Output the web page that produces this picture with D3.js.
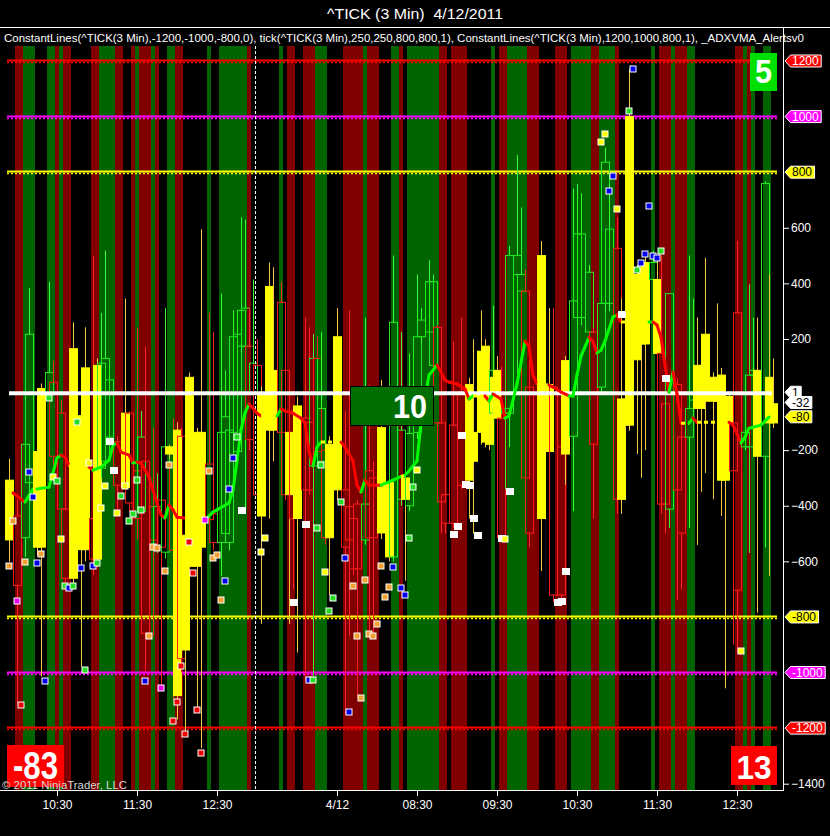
<!DOCTYPE html>
<html><head><meta charset="utf-8">
<script src="https://cdn.jsdelivr.net/npm/d3@7"></script>
<style>html,body{margin:0;padding:0;background:#000;}svg{display:block;}text{font-family:"Liberation Sans",Arial,sans-serif;}</style>
</head><body><svg id="c" width="830" height="836"></svg>
<script>
// ---------------- data ----------------
const titleText = "^TICK (3 Min)\u00a0 4/12/2011";
const legendText = "ConstantLines(^TICK(3 Min),-1200,-1000,-800,0), tick(^TICK(3 Min),250,250,800,800,1), ConstantLines(^TICK(3 Min),1200,1000,800,1), _ADXVMA_Alertsv0";
const xTickBars = [13,33,53,83,103,123,143,163,183];
const xTickLabels = ["10:30","11:30","12:30","4/12","08:30","09:30","10:30","11:30","12:30"];
const yTickValues = [600,400,200,-200,-400,-600,-1400];
const sessionBreakBar = 63;

// background shading per bar, as runs [colour code, bar count]
const bandRuns = [["K",3],["R",2],["G",3],["K",3],["G",2],["R",1],["G",1],["R",2],["K",5],["R",2],["G",4],["R",2],["K",2],["R",1],["G",1],["R",3],["G",1],["R",1],["K",2],["G",2],["R",2],["K",6],["G",1],["K",2],["G",7],["R",1],["K",7],["G",1],["K",1],["R",2],["K",2],["R",3],["G",3],["K",4],["R",5],["G",1],["R",3],["K",3],["G",2],["R",1],["K",1],["G",8],["R",2],["K",1],["R",4],["K",6],["G",1],["K",1],["R",2],["G",5],["R",3],["K",4],["R",3],["K",1],["G",5],["R",2],["G",4],["R",1],["K",8],["G",1],["K",1],["R",3],["G",1],["R",3],["G",2],["K",10],["R",2],["G",1],["R",1],["G",1],["K",2],["G",2],["K",3]];

// constant lines
const constLevels = [1200,1000,800,-800,-1000,-1200];
const constColors = ["#ff0000","#ff00ff","#ffff00","#ffff00","#ff00ff","#ff0000"];
const zeroLevel = 1;

// candles
const candleBar = [1,3,5,6,8,9,11,12,14,15, 17,19,20,22,23,24,25,26,28,30, 31,33,34,35,37,38,39,40,41,42, 43,44,45,46,48,49,51,52,54,55, 56,57,58,59,60,61,62,63,64,66, 67,69,70,71,72,73,75,76,77,78, 79,80,81,83,85,86,87,88,90,91, 92,94,96,97,99,100,101,103,104,106, 107,108,109,110,112,114,116,117,119,120, 121,122,123,124,125,126,128,129,130,131, 134,136,137,139,140,142,143,144,146,147, 149,150,151,153,154,155,156,158,159,160, 162,163,164,165,166,168,169,171,172,173, 174,175,177,178,179,180,181,182,183,185, 186,187,188,190,191,192];
const candleKind = ("YRGGYYGRRR"+"YYYRYGGGRY"+"RRGRRGRGYR"+"YRYYYYRRGG"+"GGGGGRGRYY"+"YRRYRYRRGR"+"GRYYRRRRGR"+"RYYGGYGGGG"+"GRRRRRYYYY"+"YGYRGGGGRR"+"YYRRYGGGGR"+"GGGRYYYYYY"+"GYRRGRRGGY"+"YYYYYYYRRG"+"GGYGYY").split("");
const candleOpen = [-308,-437,-515,-317,-205,22,1,44,-67,-412, 165,-76,96,-446,105,-265,-240,-153,-170,-67, -67,-274,-420,-240,-403,-549,-380,-567,-188,-250, -128,-150,-506,62,-136,-136,-250,-429,-532,-500, -532,-136,-205,174,174,174,1,105,1,389, 87,332,87,-136,-60,-41,-85,-100,-257,130, -240,-200,-179,208,-343,-403,-446,-394,-523,-274, -300,-119,-317,-584,-377,-300,-400,-136,208,225, 105,242,-102,-360,-110,1,36,-136,156,174, 62,-67,87,-85,-67,-67,432,372,372,27, 500,36,27,-188,122,-150,277,277,225,225, 27,328,328,526,-16,-16,1000,432,458,475, 414,414,148,-33,-412,36,-153,-153,-50,105, 105,217,62,62,70,-7,-7,-102,294,-188, -188,70,87,-222,62,-33];
const candleHigh = [-231,-377,-67,383,-33,40,406,120,-20,-400, 260,-60,242,500,130,294,518,70,-150,346, -60,242,-59,173,-119,-283,-200,311,-180,-85, -100,-120,-490,79,-120,595,294,225,363,87, 182,303,234,638,630,311,414,199,30,475, 458,406,150,-120,-40,-7,277,242,217,208, 225,-180,-150,311,-60,303,-430,-380,277,36, -240,53,-240,500,225,-280,148,432,311,483, 432,250,-90,-274,191,277,60,199,303,199, 148,320,139,100,96,535,862,673,449,53, 552,311,311,-145,139,741,758,724,466,240, 466,888,758,638,346,0,1172,466,480,500, 518,500,500,0,363,60,-130,500,346,277, 120,492,80,328,96,10,10,36,552,60, 397,277,277,767,432,130];
const candleLow = [-601,-1117,-584,-360,-580,-1014,-20,-300,-635,-700, -700,-980,-600,-650,-620,-300,-260,-170,-420,-360, -420,-520,-440,-997,-870,-570,-1057,-590,-230,-1100, -1169,-1000,-1220,-640,-1130,-1272,-480,-560,-652,-520, -560,-160,-230,150,-420,-200,-20,-400,-825,-446, -240,-160,-380,-825,-700,-928,-1031,-360,-1023,-230, -260,-540,-721,-380,-1152,-869,-650,-1091,-540,-863, -859,-520,-600,-600,-400,-670,-420,-160,190,200, 80,-120,-500,-500,-480,-340,-446,-500,-180,-190, -200,-90,-100,-530,-340,-190,36,350,-320,-550, -635,-280,-747,-740,-325,-420,250,250,200,-446, 0,300,300,-429,-429,-130,-130,-214,-300,-200, 380,-100,-429,-500,-480,-739,-700,-480,-60,-541, -350,-282,-377,-40,-437,-1057,-120,-900,-928,-200, -570,50,-785,-550,-652,-120];
const candleClose = [-523,-687,-179,217,-549,-549,79,-222,-412,-661, -661,-558,-558,-592,-592,113,130,53,-326,-334, -390,-446,-153,-859,-523,-403,-549,-188,-214,-560, -1083,-950,-919,-618,-618,-549,-450,-532,-136,-80, -128,208,217,303,311,-162,113,-360,-437,-128, -128,-136,-360,-360,-446,-446,-343,-343,130,-205, -50,-515,-515,-343,-549,-523,-627,-627,-394,-515, -515,-498,-584,260,-128,-377,-140,208,268,406, 406,-102,-386,-463,-463,-326,-308,-240,-136,-171, -179,87,-85,-515,-50,500,500,432,-300,-498, -446,-205,-721,-721,-214,337,578,578,440,-179, 328,836,595,-377,-377,-110,-110,125,182,182, 475,148,-394,-394,363,-343,-498,-50,-20,-50, -50,-24,-24,-24,-308,-308,-102,-274,-704,-136, 70,87,-222,759,-102,-102];

// ADXVMA line: bar, value, colour of segment arriving at the point
const maBar = [2,5,7,8,11,12,13,14,15,16, 17,18,21,22,24,26,27,28,29,31, 32,33,34,36,37,39,40,41,42,43, 45,49,50,52,53,56,57,58,59,60, 61,62,63,64,68,69,70,72,74,75, 76,77,78,79,84,85,87,88,89,90, 91,94,97,99,100,101,103,104,106,108, 109,110,111,113,115,116,117,120,121,122, 124,125,126,128,130,131,132,133,136,137, 139,141,142,143,144,146,147,148,149,150, 152,153,154,161,162,163,164,165,166,167, 168,169,171,172,173,181,182,184,185,186, 189,191];
const maVal = [-354,-387,-340,-340,-333,-282,-228,-218,-225,-254, -261,-261,-261,-272,-261,-236,-182,-174,-207,-218, -246,-243,-246,-297,-344,-433,-444,-397,-415,-441, -444,-444,-451,-423,-415,-390,-344,-236,-128,-67, -34,-49,-67,-77,-77,-52,-59,-67,-85,-103, -203,-257,-189,-171,-171,-189,-239,-326,-351,-308, -326,-326,-308,-295,-290,-275,-239,-103,70,106, 80,52,45,38,20,-16,-5,-5,-23,2, -16,-85,-77,38,192,174,70,38,34,27, 9,-5,-5,70,138,206,190,149,160,192, 279,286,261,261,261,250,206,106,9,81, 2,-103,-103,-85,-100,-100,-110,-174,-153,-121, -110,-81];
const maCol = ("SRGYGGGGRR"+"YYYRGGGGRR"+"RGRRRRRGRR"+"RYYGGGGGGG"+"GRRRYGRRRR"+"RRGGYRRRRG"+"RRGGYGGGGG"+"RRRRRRGYRG"+"RRGGGRRRYR"+"RRGGGGRRGG"+"GGRYGRRRRG"+"RRYGRYRRGG"+"GG").split("");

// alert squares
const markerBar = [1,2,3,4,5,6,7,8,9,10, 11,12,13,14,15,16,17,18,19,20, 21,22,23,24,25,26,27,28,29,30, 31,32,33,34,35,36,37,38,39,40, 41,42,43,44,45,46,47,48,49,50, 51,52,53,54,55,56,57,58,59,64, 65,72,75,76,77,78,79,80,81,82, 84,85,86,87,88,89,90,91,92,93, 94,95,96,97,99,100,101,102,103,112, 113,114,115,116,117,118,124,125,126,138, 139,140,149,150,151,152,153,154,156,157, 158,159,160,161,162,163,164,165,184];
const markerVal = [-618,-455,-742,-1117,-601,-279,-369,-606,-575,-1031, -12,-295,-312,-520,-690,-696,-690,-97,-623,-990, -248,-618,-606,-408,-329,-167,-270,-425,-365,-329, -455,-429,-308,-415,-1031,-868,-549,-553,-1057,-635, -252,-1174,-1105,-976,-1220,-529,-641,-1134,-1289,-451, -274,-589,-578,-739,-672,-338,-227,-153,-417,-567, -515,-747,-467,-1028,-1028,-480,-253,-639,-778,-733, -387,-587,-1143,-690,-869,-1091,-666,-863,-868,-825, -615,-727,-694,-622,-697,-720,-515,-334,-270,-503, -472,-147,-320,-327,-443,-506,-515,-518,-348,-747, -744,-635,908,936,731,785,666,289,1019,1173, 447,475,507,678,497,490,518,59,-924];
const markerKind = ("OOMROBBBOB"+"GYGYGBGGBG"+"YBGYYWWYGY"+"GGGGBOOOMO"+"ORRRRRRRRM"+"OOOOBBBGWY"+"YWWBGGGYGG"+"GBBOOOOOOO"+"OOOBBBGGYW"+"WWWWWWWYWW"+"WWYYBBYWGB"+"GBBBBBGWY").split("");

// value boxes and price flags
const boxTexts = ["5","10","-83","13"];
const flagValues = [1200,1000,800,-800,-1000,-1200,1,-32,-80];
const flagLabels = ["1200","1000","800","-800","-1000","-1200","1","-32","-80"];
const flagFills = ["#ff0000","#ff00ff","#ffff00","#ffff00","#ff00ff","#ff0000","#ffffff","#ffffff","#ffff00"];
const flagInk = ["#fff","#fff","#000","#000","#fff","#fff","#000","#000","#000"];

// ---------------- drawing ----------------
const svg = d3.select("#c");
const plotTop = 46, plotBottom = 790, axisX = 783;
const x = d3.scaleLinear().domain([0,193]).range([5,777]);
const y = d3.scaleLinear().domain([-1400,1200]).range([783.7,61]);
const bw = x(1)-x(0);

svg.append("rect").attr("width",830).attr("height",836).attr("fill","#000");

// bands
let pos = 0; const bands = [];
bandRuns.forEach(([c,n]) => { bands.push({c, s:pos, e:pos+n}); pos += n; });
const bandFill = {G:"#006400", R:"#800000"};
svg.append("g").selectAll("rect").data(bands.filter(b => b.c !== "K")).join("rect")
  .attr("x", d => x(d.s) - bw/2).attr("width", d => Math.min(x(d.e) - bw/2, axisX) - (x(d.s) - bw/2))
  .attr("y", plotTop).attr("height", plotBottom - plotTop)
  .attr("fill", d => bandFill[d.c]);

// constant lines (saw-tooth look)
const cl = svg.append("g");
constLevels.forEach((v,i) => {
  const yy = Math.round(y(v));
  cl.append("line").attr("x1",7).attr("x2",777).attr("y1",yy-0.5).attr("y2",yy-0.5)
    .attr("stroke",constColors[i]).attr("stroke-width",2);
  cl.append("line").attr("x1",7).attr("x2",777).attr("y1",yy+1.5).attr("y2",yy+1.5)
    .attr("stroke",constColors[i]).attr("stroke-width",1.5).attr("stroke-dasharray","2,2");
});

// candles
const candles = candleBar.map((b,i) => ({b, k:candleKind[i], o:candleOpen[i], h:candleHigh[i], l:candleLow[i], c:candleClose[i]}));
const cg = svg.append("g");
const wickCol = {G:"#33ff33", R:"#ff2020", Y:"#f5c842"};
const bodyCol = {G:"#22ee22", R:"#ff1a1a", Y:"#ffff00"};
candles.forEach(d => {
  const cx = Math.round(x(d.b)) + 0.5;
  const top = Math.max(d.o,d.c), bot = Math.min(d.o,d.c);
  const yt = y(top), yb = y(bot);
  cg.append("line").attr("x1",cx).attr("x2",cx).attr("y1",y(d.h)).attr("y2",yt).attr("stroke",wickCol[d.k]);
  cg.append("line").attr("x1",cx).attr("x2",cx).attr("y1",yb).attr("y2",y(d.l)).attr("stroke",wickCol[d.k]);
  cg.append("rect").attr("x",cx-4).attr("width",8).attr("y",yt).attr("height",Math.max(1,yb-yt))
    .attr("fill", d.k === "Y" ? "#ffff00" : "none").attr("stroke", bodyCol[d.k]).attr("stroke-width",1);
});

// zero (value 1) line
svg.append("line").attr("x1",9).attr("x2",772).attr("y1",y(zeroLevel)-1).attr("y2",y(zeroLevel)-1)
  .attr("stroke","#ffffff").attr("stroke-width",4);

// session break
svg.append("line").attr("x1",x(sessionBreakBar-1)+2.5).attr("x2",x(sessionBreakBar-1)+2.5).attr("y1",plotTop).attr("y2",plotBottom)
  .attr("stroke","#ffffff").attr("stroke-width",1).attr("stroke-dasharray","3,2");

// ADXVMA line
const maColMap = {G:"#00ff00", R:"#ff0000", Y:"#ffff00"};
const mg = svg.append("g");
for (let k = 1; k < maBar.length; k++) {
  const c = maCol[k];
  mg.append("line").attr("x1",x(maBar[k-1])).attr("y1",y(maVal[k-1])).attr("x2",x(maBar[k])).attr("y2",y(maVal[k]))
    .attr("stroke",maColMap[c]).attr("stroke-width",3).attr("stroke-linecap", c==="Y" ? "butt" : "round")
    .attr("stroke-dasharray", c==="Y" ? "4,3" : null);
}

// markers
const mkCol = {O:"#f0a030", B:"#0000ee", G:"#22dd22", Y:"#ffff00", R:"#ee0000", M:"#ee00ee", W:"#ffffff"};
svg.append("g").selectAll("rect").data(markerBar.map((b,i)=>({b, v:markerVal[i], k:markerKind[i]}))).join("rect")
  .attr("x", d => Math.round(x(d.b)) - 3).attr("y", d => Math.round(y(d.v)) - 3)
  .attr("width", d => d.k==="W" ? 8 : 6).attr("height", d => d.k==="W" ? 7 : 6)
  .attr("fill", d => mkCol[d.k]).attr("stroke", d => d.k==="W" ? "none" : "#ffffff").attr("stroke-width",1);

// frame
svg.append("line").attr("x1",0).attr("x2",830).attr("y1",27.5).attr("y2",27.5).attr("stroke","#fff");
svg.append("line").attr("x1",0).attr("x2",axisX).attr("y1",plotBottom+0.5).attr("y2",plotBottom+0.5).attr("stroke","#fff");
svg.append("line").attr("x1",axisX+0.5).attr("x2",axisX+0.5).attr("y1",27).attr("y2",plotBottom+1).attr("stroke","#fff");

// axes
const xa = svg.append("g").attr("transform",`translate(0,${plotBottom+1})`)
  .call(d3.axisBottom(x).tickValues(xTickBars).tickFormat((d,i)=>xTickLabels[i]).tickSize(5).tickPadding(4));
xa.select(".domain").remove();
xa.selectAll("line").attr("stroke","#fff");
xa.selectAll("text").attr("fill","#fff").style("font-size","12px").style("font-family","Liberation Sans, Arial, sans-serif");

const ya = svg.append("g").attr("transform",`translate(${axisX+1},0)`)
  .call(d3.axisRight(y).tickValues(yTickValues).tickFormat(d3.format("d")).tickSize(5).tickPadding(2));
ya.select(".domain").remove();
ya.selectAll("line").attr("stroke","#fff");
ya.selectAll("text").attr("fill","#fff").style("font-size","12px").style("font-family","Liberation Sans, Arial, sans-serif");

// flags (the three zero-area flags are nudged apart as in the original)
const flagNudge = [0,0,0,0,0,0,-2,-1,0];
const fg = svg.append("g");
flagValues.forEach((v,i) => {
  const yc = y(v) + flagNudge[i];
  const t = fg.append("text").attr("x",792).attr("y",yc+4.3).text(flagLabels[i]).style("font-size","12px");
  const w = t.node().getComputedTextLength() + 4;
  fg.insert("path", () => t.node())
    .attr("d",`M785,${yc} L790.5,${yc-6} L${790.5+w},${yc-6} L${790.5+w},${yc+6} L790.5,${yc+6} Z`)
    .attr("fill",flagFills[i]).attr("stroke","#ffffff").attr("stroke-width",1);
  t.attr("fill",flagInk[i]);
});

// value boxes
function box(x0,y0,w,h,fill,stroke,txt,tx,ty,fs,tl,anchor){
  svg.append("rect").attr("x",x0).attr("y",y0).attr("width",w).attr("height",h).attr("fill",fill)
    .attr("stroke",stroke||"none").attr("stroke-width",1);
  svg.append("text").attr("x",tx).attr("y",ty).attr("text-anchor",anchor||"middle").attr("fill","#fff")
    .style("font-size",fs+"px").style("font-weight","bold").attr("textLength",tl).attr("lengthAdjust","spacingAndGlyphs").text(txt);
}
box(750,53,27,38,"#00e000",null,boxTexts[0],763.5,83,34,17);
box(350.5,386.5,83,39,"#006e00","#000",boxTexts[1],410,418,33,34);
box(7,745,57,42,"#ff0000",null,boxTexts[2],35.5,779,38,45);
box(731,746,46,39,"#ff0000",null,boxTexts[3],754,779,34,35);

// texts
svg.append("text").attr("x",415).attr("y",19).attr("text-anchor","middle").attr("fill","#fff")
  .style("font-size","15px").attr("textLength",176).attr("lengthAdjust","spacingAndGlyphs").text(titleText);
svg.append("text").attr("x",4).attr("y",42).attr("fill","#fff")
  .style("font-size","11px").attr("textLength",800).attr("lengthAdjust","spacingAndGlyphs").text(legendText);
svg.append("text").attr("x",2).attr("y",789).attr("fill","#d8d8d8")
  .style("font-size","11.5px").attr("textLength",125).attr("lengthAdjust","spacingAndGlyphs").text("© 2011 NinjaTrader, LLC");
</script></body></html>
